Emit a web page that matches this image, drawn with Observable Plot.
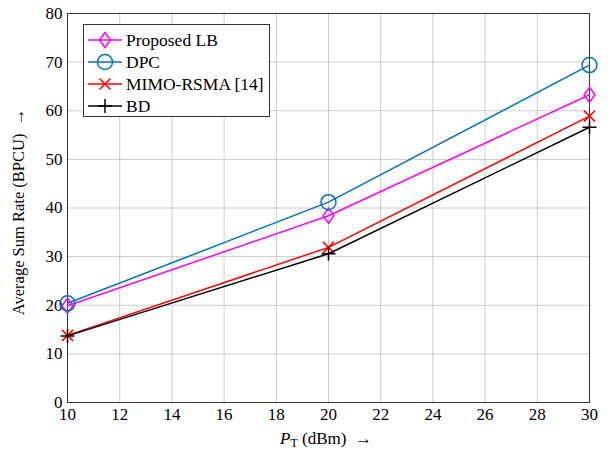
<!DOCTYPE html>
<html><head><meta charset="utf-8">
<script src="https://cdn.jsdelivr.net/npm/d3@7"></script>
<script src="https://cdn.jsdelivr.net/npm/@observablehq/plot@0.6"></script>
<style>
body{margin:0;background:#fff;font-family:"Liberation Serif",serif;}
#wrap{position:relative;width:608px;height:452px;}
#legend{position:absolute;left:83px;top:24px;width:187px;height:93px;border:1px solid #333;background:#fff;box-sizing:border-box;padding:4px 0 0 0;font-size:17.5px;}
#legend div{display:flex;align-items:center;height:22px;}
#legend svg{margin:0 4px 0 4px;}
</style></head><body>
<div id="wrap"><div id="chart"></div><div id="legend"></div></div>
<script>
const power = [10, 20, 30];
const proposedLB = [19.9, 38.4, 63.3];
const dpc = [20.4, 41.2, 69.4];
const mimoRSMA = [13.8, 31.9, 58.9];
const bd = [13.7, 30.6, 56.6];
const seriesNames = ["Proposed LB", "DPC", "MIMO-RSMA [14]", "BD"];
const seriesValues = [proposedLB, dpc, mimoRSMA, bd];
const colors = ["#ff00ff", "#0072bd", "#ff0000", "#000000"];
const xTicks = [10,12,14,16,18,20,22,24,26,28,30];
const yTicks = [0,10,20,30,40,50,60,70,80];

const symDiamond = {draw(c){ c.moveTo(0,-7.5); c.lineTo(5.5,0); c.lineTo(0,7.5); c.lineTo(-5.5,0); c.closePath(); }};
const symCircle = {draw(c){ c.moveTo(7.5,0); c.arc(0,0,7.5,0,2*Math.PI); }};
const symTimes = {draw(c){ c.moveTo(-5.5,-5.5); c.lineTo(5.5,5.5); c.moveTo(5.5,-5.5); c.lineTo(-5.5,5.5); }};
const symPlus = {draw(c){ c.moveTo(-7,0); c.lineTo(7,0); c.moveTo(0,-7); c.lineTo(0,7); }};
const symbols = [symDiamond, symCircle, symTimes, symPlus];

const data = [];
seriesNames.forEach((s, i) => power.forEach((p, j) => data.push({series: s, x: p, y: seriesValues[i][j], idx: i})));

const marks = [
  Plot.gridX(xTicks, {stroke: "#b8b8b8", strokeOpacity: 0.7}),
  Plot.gridY(yTicks, {stroke: "#b8b8b8", strokeOpacity: 0.7}),
  Plot.frame({stroke: "#333", strokeOpacity: 1}),
  Plot.axisX({ticks: xTicks, tickSize: 0, tickPadding: 5, label: null}),
  Plot.axisY({ticks: yTicks, tickSize: 0, tickPadding: 5, label: null})
];
seriesNames.forEach((s, i) => {
  const d = data.filter(e => e.idx === i);
  marks.push(Plot.line(d, {x: "x", y: "y", stroke: colors[i], strokeWidth: 1.5}));
  marks.push(Plot.dot(d, {x: "x", y: "y", stroke: colors[i], symbol: symbols[i], r: 5, strokeWidth: 1.5, fill: "none"}));
});

const chart = Plot.plot({
  width: 608, height: 452,
  marginLeft: 67, marginRight: 19, marginTop: 13, marginBottom: 50,
  x: {domain: [10, 30]},
  y: {domain: [0, 80]},
  style: {color: "#000", background: "#fff"},
  marks
});
document.getElementById("chart").appendChild(chart);

const svg = d3.select(chart);
svg.selectAll("text").style("font-size", "17px").style("font-family", "'Liberation Serif', serif");
svg.append("text").attr("x", 326).attr("y", 444).attr("text-anchor", "middle")
  .style("font-size", "17px").style("font-family", "'Liberation Serif', serif")
  .html('<tspan font-style="italic">P</tspan><tspan style="font-size:12px" dy="3">T</tspan><tspan dy="-3"> (dBm)  →</tspan>');
svg.append("text").attr("transform", "translate(24,212) rotate(-90)").attr("text-anchor", "middle")
  .style("font-size", "16.5px").style("font-family", "'Liberation Serif', serif")
  .text("Average Sum Rate (BPCU)  →");

const leg = d3.select("#legend");
seriesNames.forEach((s, i) => {
  const row = leg.append("div");
  const sv = row.append("svg").attr("width", 34).attr("height", 20);
  sv.append("line").attr("x1", 0).attr("x2", 34).attr("y1", 10).attr("y2", 10).attr("stroke", colors[i]).attr("stroke-width", 1.5);
  sv.append("path").attr("transform", "translate(17,10)")
    .attr("d", d3.symbol(symbols[i])())
    .attr("fill", "none").attr("stroke", colors[i]).attr("stroke-width", 1.5);
  row.append("span").text(s);
});
</script></body></html>
